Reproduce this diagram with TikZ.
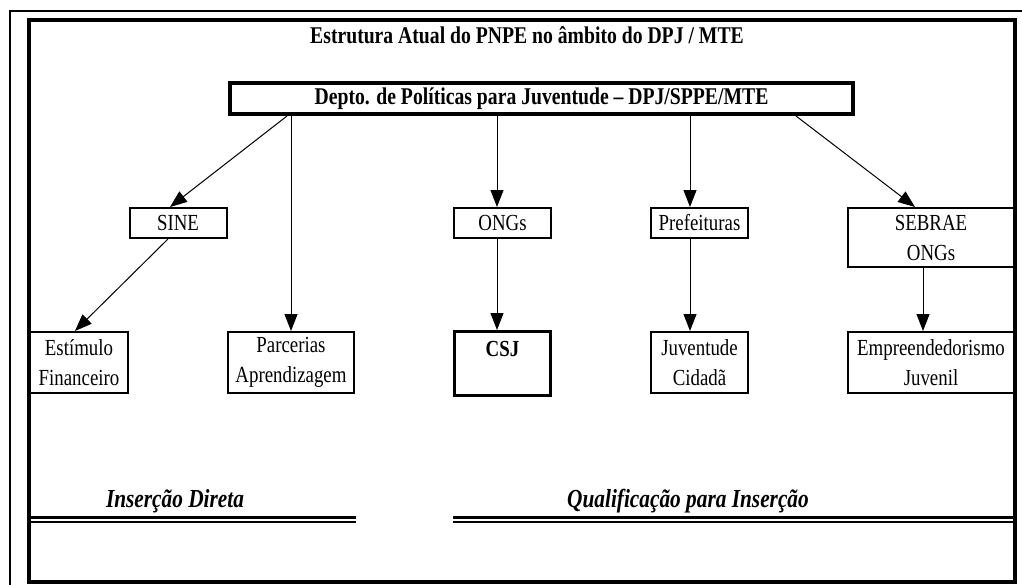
\documentclass[tikz,border=0pt]{standalone}
\usepackage{fontspec}
\setmainfont{Liberation Serif}[FakeStretch=0.82]
\usetikzlibrary{arrows.meta}

\begin{document}
\begin{tikzpicture}[x=0.5pt, y=-0.5pt,
    font=\fontsize{11.5}{15}\selectfont,
    unit/.style ={rectangle, draw, line width=1pt, inner sep=0pt, align=center,
                  minimum width=48.5pt, minimum height=15pt},
    program/.style ={unit, minimum height=30.5pt},
    heading/.style ={font=\fontsize{12}{15}\selectfont\bfseries},
    region/.style ={anchor=base, font=\fontsize{13}{15}\selectfont\bfseries\itshape},
    link/.style ={line width=0.5pt, -{Triangle[length=8.5pt, width=6.5pt]}}]
   \useasboundingbox (0,0) rectangle (1022,584);
   \draw[line width=1pt] (10,11) rectangle (1040,600);
   \draw[line width=2pt] (28.5,20) rectangle (1014.5,582);

   \node[heading, anchor=base] (title) at (527,43) {Estrutura Atual do PNPE no âmbito do DPJ / MTE};
   \node[unit, heading, line width=2pt, minimum width=311.5pt, minimum height=15.5pt] (dpj) at (541.5,98.5)
      {Depto. de Políticas para Juventude -- DPJ/SPPE/MTE};

   \node[unit] (sine)  at (178,223)  {SINE};
   \node[unit] (ongs)  at (502.5,223)  {ONGs};
   \node[unit] (pref)  at (699.5,223)  {Prefeituras};
   \node[unit, minimum width=83pt, minimum height=29.5pt] (sebrae) at (931,237.5)  {SEBRAE\\ONGs};

   \node[program, minimum width=49pt] (estim) at (79,362.5)  {Estímulo\\Financeiro};
   \node[program, minimum width=63pt] (parc)  at (291,362.5)  {Parcerias\\Aprendizagem};
   \node[program, line width=1.5pt, minimum width=48pt, minimum height=32pt] (csj) at (502.5,363.5)  {\textbf{CSJ}\\ \mbox{}};
   \node[program] (juv)  at (699.5,362.5)  {Juventude\\Cidadã};
   \node[program, minimum width=83pt] (empre) at (931,362.5)  {Empreendedorismo\\Juvenil};

   \draw[link] (287,0 |- dpj.south) to (170,0 |- sine.north);
   \draw[link] (291,0 |- dpj.south) to (parc.north);
   \draw[link] (497,0 |- dpj.south) to (497,0 |- ongs.north);
   \draw[link] (690,0 |- dpj.south) to (690,0 |- pref.north);
   \draw[link] (796,0 |- dpj.south) to (915,0 |- sebrae.north);

   \draw[link] (168,0 |- sine.south) to (75,0 |- estim.north);
   \draw[link] (497,0 |- ongs.south) to (497,0 |- csj.north);
   \draw[link] (690,0 |- pref.south) to (690,0 |- juv.north);
   \draw[link] (923,0 |- sebrae.south) to (923,0 |- empre.north);

   \node[region] (direta) at (175,507) {Inserção Direta};
   \node[region] (qualif) at (688,507) {Qualificação para Inserção};
   \draw[line width=1.5pt] (30,517) -- (356,517);
   \draw[line width=1pt] (30,522) -- (356,522);
   \draw[line width=1.5pt] (453,517) -- (1014,517);
   \draw[line width=1pt] (453,522) -- (1014,522);
 \end{tikzpicture}
\end{document}
